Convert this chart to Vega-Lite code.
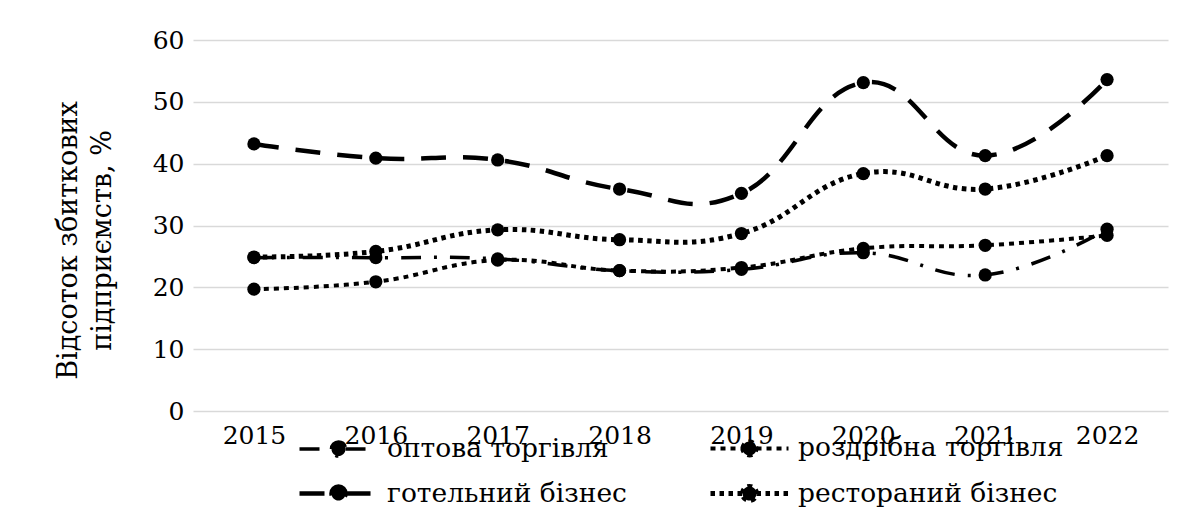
{
  "$schema": "https://vega.github.io/schema/vega-lite/v6.json",
  "autosize": {"type": "none"},
  "width": 975,
  "height": 371,
  "padding": {"left": 193, "top": 40, "right": 13, "bottom": 109},
  "background": "white",
  "config": {
    "view": {"stroke": null},
    "font": "DejaVu Serif"
  },
  "data": {
    "values": [
      {"year": "2015", "series": "оптова торгівля", "value": 24.8},
      {"year": "2016", "series": "оптова торгівля", "value": 24.8},
      {"year": "2017", "series": "оптова торгівля", "value": 24.6},
      {"year": "2018", "series": "оптова торгівля", "value": 22.7},
      {"year": "2019", "series": "оптова торгівля", "value": 22.9},
      {"year": "2020", "series": "оптова торгівля", "value": 25.6},
      {"year": "2021", "series": "оптова торгівля", "value": 22.0},
      {"year": "2022", "series": "оптова торгівля", "value": 29.4},
      {"year": "2015", "series": "роздрібна торгівля", "value": 19.7},
      {"year": "2016", "series": "роздрібна торгівля", "value": 20.9},
      {"year": "2017", "series": "роздрібна торгівля", "value": 24.4},
      {"year": "2018", "series": "роздрібна торгівля", "value": 22.7},
      {"year": "2019", "series": "роздрібна торгівля", "value": 23.2},
      {"year": "2020", "series": "роздрібна торгівля", "value": 26.3},
      {"year": "2021", "series": "роздрібна торгівля", "value": 26.8},
      {"year": "2022", "series": "роздрібна торгівля", "value": 28.4},
      {"year": "2015", "series": "готельний бізнес", "value": 43.2},
      {"year": "2016", "series": "готельний бізнес", "value": 40.9},
      {"year": "2017", "series": "готельний бізнес", "value": 40.6},
      {"year": "2018", "series": "готельний бізнес", "value": 35.9},
      {"year": "2019", "series": "готельний бізнес", "value": 35.2},
      {"year": "2020", "series": "готельний бізнес", "value": 53.1},
      {"year": "2021", "series": "готельний бізнес", "value": 41.3},
      {"year": "2022", "series": "готельний бізнес", "value": 53.6},
      {"year": "2015", "series": "рестораний бізнес", "value": 24.9},
      {"year": "2016", "series": "рестораний бізнес", "value": 25.8},
      {"year": "2017", "series": "рестораний бізнес", "value": 29.3},
      {"year": "2018", "series": "рестораний бізнес", "value": 27.7},
      {"year": "2019", "series": "рестораний бізнес", "value": 28.7},
      {"year": "2020", "series": "рестораний бізнес", "value": 38.4},
      {"year": "2021", "series": "рестораний бізнес", "value": 35.9},
      {"year": "2022", "series": "рестораний бізнес", "value": 41.3}
    ]
  },
  "encoding": {
    "x": {
      "field": "year", "type": "ordinal",
      "scale": {"type": "point", "padding": 0.5},
      "axis": {"title": null, "domain": false, "ticks": false, "labelAngle": 0, "labelFont": "DejaVu Serif", "labelColor": "black", "labelFontSize": 25, "labelPadding": 12, "grid": false}
    },
    "y": {
      "field": "value", "type": "quantitative",
      "scale": {"domain": [0, 60], "nice": false},
      "axis": {
        "values": [0, 10, 20, 30, 40, 50, 60],
        "title": ["Відсоток збиткових", "підприємств, %"],
        "titleFont": "DejaVu Serif", "titleColor": "black",
        "titleFontSize": 27, "titleFontWeight": "normal", "titlePadding": 36, "titleLineHeight": 34, "titleY": 200,
        "domain": false, "ticks": false, "labelFont": "DejaVu Serif", "labelColor": "black", "labelFontSize": 25, "labelPadding": 9,
        "grid": true, "gridColor": "#d9d9d9", "gridWidth": 1.5
      }
    }
  },
  "layer": [
    {
      "mark": {"type": "line", "interpolate": "cardinal", "tension": -0.3, "color": "black", "strokeCap": "butt"},
      "encoding": {
        "strokeDash": {
          "field": "series", "type": "nominal",
          "scale": {
            "domain": ["оптова торгівля", "роздрібна торгівля", "готельний бізнес", "рестораний бізнес"],
            "range": [[20, 13, 3, 13], [5, 5], [25, 17], [4.5, 4.5]]
          },
          "legend": {
            "title": null, "orient": "none", "legendX": 130, "legendY": 393, "direction": "horizontal", "columns": 2,
            "labelFont": "DejaVu Serif", "labelFontSize": 26.5, "labelColor": "black", "labelOffset": 33, "columnPadding": 73, "rowPadding": 12, "padding": 0,
            "symbolType": "M-3,0H-0.54M0.54,0H3M-0.54,0A0.54,0.54,0,1,1,0.54,0A0.54,0.54,0,1,1,-0.54,0Z",
            "symbolSize": 676, "symbolStrokeColor": "black", "symbolFillColor": "black", "symbolStrokeWidth": 4.5, "labelLimit": 400
          }
        },
        "strokeWidth": {
          "field": "series", "type": "nominal",
          "scale": {
            "domain": ["оптова торгівля", "роздрібна торгівля", "готельний бізнес", "рестораний бізнес"],
            "range": [3.5, 5, 4.5, 5]
          },
          "legend": null
        }
      }
    },
    {
      "mark": {"type": "point", "shape": "circle", "filled": true, "color": "black", "opacity": 1, "size": 175},
      "encoding": {"detail": {"field": "series"}}
    }
  ]
}
